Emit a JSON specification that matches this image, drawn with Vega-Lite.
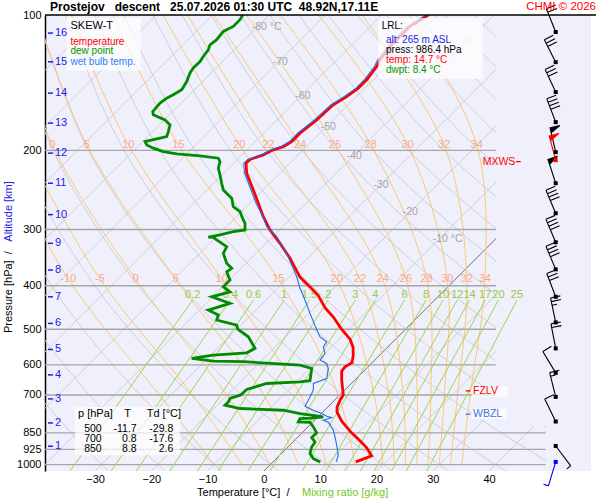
{
  "$schema": "https://vega.github.io/schema/vega-lite/v6.json",
  "width": 546,
  "height": 456,
  "autosize": {"type": "none"},
  "padding": {"left": 45, "top": 15, "right": 9, "bottom": 29},
  "background": "white",
  "config": {
    "font": "Liberation Sans",
    "view": {"fill": "#f0f0fc", "stroke": null},
    "axis": {"grid": false, "ticks": false, "tickSize": 0, "domain": false, "labelFont": "Liberation Sans", "labelFontSize": 11, "labelColor": "#000000"},
    "legend": {"disable": true}
  },
  "datasets": {
    "iso": [
      {"T": -110, "p": 1033.4, "x": -110}, {"T": -110, "p": 100, "x": -29.09},
      {"T": -100, "p": 1033.4, "x": -100}, {"T": -100, "p": 100, "x": -19.09},
      {"T": -90, "p": 1033.4, "x": -90}, {"T": -90, "p": 100, "x": -9.09},
      {"T": -80, "p": 1033.4, "x": -80}, {"T": -80, "p": 100, "x": 0.91},
      {"T": -70, "p": 1033.4, "x": -70}, {"T": -70, "p": 100, "x": 10.91},
      {"T": -60, "p": 1033.4, "x": -60}, {"T": -60, "p": 100, "x": 20.91},
      {"T": -50, "p": 1033.4, "x": -50}, {"T": -50, "p": 100, "x": 30.91},
      {"T": -40, "p": 1033.4, "x": -40}, {"T": -40, "p": 100, "x": 40.91},
      {"T": -30, "p": 1033.4, "x": -30}, {"T": -30, "p": 100, "x": 50.91},
      {"T": -20, "p": 1033.4, "x": -20}, {"T": -20, "p": 100, "x": 60.91},
      {"T": -10, "p": 1033.4, "x": -10}, {"T": -10, "p": 100, "x": 70.91},
      {"T": 0, "p": 1033.4, "x": 0}, {"T": 0, "p": 100, "x": 80.91},
      {"T": 10, "p": 1033.4, "x": 10}, {"T": 10, "p": 100, "x": 90.91},
      {"T": 20, "p": 1033.4, "x": 20}, {"T": 20, "p": 100, "x": 100.91},
      {"T": 30, "p": 1033.4, "x": 30}, {"T": 30, "p": 100, "x": 110.91},
      {"T": 40, "p": 1033.4, "x": 40}, {"T": 40, "p": 100, "x": 120.91}
    ],
    "dry": [
      {"th": -30, "p": 1033.4, "x": -27.71}, {"th": -30, "p": 700, "x": -40.07}, {"th": -30, "p": 400, "x": -53.12}, {"th": -30, "p": 200, "x": -62.74}, {"th": -30, "p": 100, "x": -66.31},
      {"th": -20, "p": 1033.4, "x": -17.61}, {"th": -20, "p": 700, "x": -31.03}, {"th": -20, "p": 400, "x": -45.43}, {"th": -20, "p": 200, "x": -56.42}, {"th": -20, "p": 100, "x": -61.13},
      {"th": -10, "p": 1033.4, "x": -7.52}, {"th": -10, "p": 700, "x": -22.0}, {"th": -10, "p": 400, "x": -37.73}, {"th": -10, "p": 200, "x": -50.11}, {"th": -10, "p": 100, "x": -55.95},
      {"th": 0, "p": 1033.4, "x": 2.58}, {"th": 0, "p": 700, "x": -12.97}, {"th": 0, "p": 400, "x": -30.03}, {"th": 0, "p": 200, "x": -43.8}, {"th": 0, "p": 100, "x": -50.77},
      {"th": 10, "p": 1033.4, "x": 12.67}, {"th": 10, "p": 700, "x": -3.94}, {"th": 10, "p": 400, "x": -22.34}, {"th": 10, "p": 200, "x": -37.48}, {"th": 10, "p": 100, "x": -45.59},
      {"th": 20, "p": 1033.4, "x": 22.76}, {"th": 20, "p": 700, "x": 5.09}, {"th": 20, "p": 400, "x": -14.64}, {"th": 20, "p": 200, "x": -31.17}, {"th": 20, "p": 100, "x": -40.41},
      {"th": 30, "p": 1033.4, "x": 32.86}, {"th": 30, "p": 700, "x": 14.12}, {"th": 30, "p": 400, "x": -6.94}, {"th": 30, "p": 200, "x": -24.85}, {"th": 30, "p": 100, "x": -35.23},
      {"th": 40, "p": 1033.4, "x": 42.95}, {"th": 40, "p": 700, "x": 23.15}, {"th": 40, "p": 400, "x": 0.75}, {"th": 40, "p": 200, "x": -18.54}, {"th": 40, "p": 100, "x": -30.06},
      {"th": 50, "p": 1033.4, "x": 53.05}, {"th": 50, "p": 700, "x": 32.18}, {"th": 50, "p": 400, "x": 8.45}, {"th": 50, "p": 200, "x": -12.23}, {"th": 50, "p": 100, "x": -24.88},
      {"th": 60, "p": 1033.4, "x": 63.14}, {"th": 60, "p": 700, "x": 41.21}, {"th": 60, "p": 400, "x": 16.15}, {"th": 60, "p": 200, "x": -5.91}, {"th": 60, "p": 100, "x": -19.7},
      {"th": 70, "p": 1033.4, "x": 73.24}, {"th": 70, "p": 700, "x": 50.25}, {"th": 70, "p": 400, "x": 23.84}, {"th": 70, "p": 200, "x": 0.4}, {"th": 70, "p": 100, "x": -14.52},
      {"th": 80, "p": 1033.4, "x": 83.33}, {"th": 80, "p": 700, "x": 59.28}, {"th": 80, "p": 400, "x": 31.54}, {"th": 80, "p": 200, "x": 6.72}, {"th": 80, "p": 100, "x": -9.34},
      {"th": 90, "p": 1033.4, "x": 93.42}, {"th": 90, "p": 700, "x": 68.31}, {"th": 90, "p": 400, "x": 39.24}, {"th": 90, "p": 200, "x": 13.03}, {"th": 90, "p": 100, "x": -4.16},
      {"th": 100, "p": 1033.4, "x": 103.52}, {"th": 100, "p": 700, "x": 77.34}, {"th": 100, "p": 400, "x": 46.93}, {"th": 100, "p": 200, "x": 19.34}, {"th": 100, "p": 100, "x": 1.02},
      {"th": 110, "p": 1033.4, "x": 113.61}, {"th": 110, "p": 700, "x": 86.37}, {"th": 110, "p": 400, "x": 54.63}, {"th": 110, "p": 200, "x": 25.66}, {"th": 110, "p": 100, "x": 6.2},
      {"th": 120, "p": 1033.4, "x": 123.71}, {"th": 120, "p": 700, "x": 95.4}, {"th": 120, "p": 400, "x": 62.33}, {"th": 120, "p": 200, "x": 31.97}, {"th": 120, "p": 100, "x": 11.38},
      {"th": 130, "p": 1033.4, "x": 133.8}, {"th": 130, "p": 700, "x": 104.43}, {"th": 130, "p": 400, "x": 70.02}, {"th": 130, "p": 200, "x": 38.29}, {"th": 130, "p": 100, "x": 16.56},
      {"th": 140, "p": 1033.4, "x": 143.9}, {"th": 140, "p": 700, "x": 113.46}, {"th": 140, "p": 400, "x": 77.72}, {"th": 140, "p": 200, "x": 44.6}, {"th": 140, "p": 100, "x": 21.74},
      {"th": 150, "p": 1033.4, "x": 153.99}, {"th": 150, "p": 700, "x": 122.49}, {"th": 150, "p": 400, "x": 85.42}, {"th": 150, "p": 200, "x": 50.91}, {"th": 150, "p": 100, "x": 26.92},
      {"th": 160, "p": 1033.4, "x": 164.08}, {"th": 160, "p": 700, "x": 131.53}, {"th": 160, "p": 400, "x": 93.12}, {"th": 160, "p": 200, "x": 57.23}, {"th": 160, "p": 100, "x": 32.1},
      {"th": 170, "p": 1033.4, "x": 174.18}, {"th": 170, "p": 700, "x": 140.56}, {"th": 170, "p": 400, "x": 100.81}, {"th": 170, "p": 200, "x": 63.54}, {"th": 170, "p": 100, "x": 37.28}
    ],
    "moist": [
      {"tw": -10, "p": 1000, "x": -8.86}, {"tw": -10, "p": 700, "x": -18.57}, {"tw": -10, "p": 386.6, "x": -34.75}, {"tw": -10, "p": 194.5, "x": -47.39},
      {"tw": -5, "p": 1000, "x": -3.86}, {"tw": -5, "p": 700, "x": -12.69}, {"tw": -5, "p": 386.6, "x": -29.12}, {"tw": -5, "p": 194.5, "x": -42.8},
      {"tw": 0, "p": 1000, "x": 1.14}, {"tw": 0, "p": 700, "x": -6.61}, {"tw": 0, "p": 386.6, "x": -22.78}, {"tw": 0, "p": 194.5, "x": -37.59}, {"tw": 0, "p": 100, "x": -45.3},
      {"tw": 5, "p": 1000, "x": 6.14}, {"tw": 5, "p": 700, "x": -0.01}, {"tw": 5, "p": 386.6, "x": -15.67}, {"tw": 5, "p": 194.5, "x": -31.48}, {"tw": 5, "p": 100, "x": -40.3},
      {"tw": 10, "p": 1000, "x": 11.14}, {"tw": 10, "p": 700, "x": 6.49}, {"tw": 10, "p": 386.6, "x": -7.5}, {"tw": 10, "p": 194.5, "x": -24.09}, {"tw": 10, "p": 100, "x": -34.2},
      {"tw": 15, "p": 1000, "x": 16.14}, {"tw": 15, "p": 700, "x": 13.19}, {"tw": 15, "p": 386.6, "x": 2.56}, {"tw": 15, "p": 194.5, "x": -15.21}, {"tw": 15, "p": 100, "x": -26.8},
      {"tw": 20, "p": 1000, "x": 21.14}, {"tw": 20, "p": 700, "x": 19.59}, {"tw": 20, "p": 386.6, "x": 12.93}, {"tw": 20, "p": 194.5, "x": -4.37}, {"tw": 20, "p": 100, "x": -17.9},
      {"tw": 22, "p": 1000, "x": 23.14}, {"tw": 22, "p": 700, "x": 22.19}, {"tw": 22, "p": 386.6, "x": 17.07}, {"tw": 22, "p": 194.5, "x": 0.78}, {"tw": 22, "p": 100, "x": -13.6},
      {"tw": 24, "p": 1000, "x": 25.14}, {"tw": 24, "p": 700, "x": 24.73}, {"tw": 24, "p": 386.6, "x": 21.1}, {"tw": 24, "p": 194.5, "x": 6.41}, {"tw": 24, "p": 100, "x": -8.9},
      {"tw": 26, "p": 1000, "x": 27.14}, {"tw": 26, "p": 700, "x": 27.22}, {"tw": 26, "p": 386.6, "x": 25.24}, {"tw": 26, "p": 194.5, "x": 12.63}, {"tw": 26, "p": 100, "x": -3.1},
      {"tw": 28, "p": 1000, "x": 29.14}, {"tw": 28, "p": 700, "x": 29.66}, {"tw": 28, "p": 386.6, "x": 28.92}, {"tw": 28, "p": 194.5, "x": 18.97}, {"tw": 28, "p": 100, "x": 2.9},
      {"tw": 30, "p": 1000, "x": 31.14}, {"tw": 30, "p": 700, "x": 32.06}, {"tw": 30, "p": 386.6, "x": 32.58}, {"tw": 30, "p": 194.5, "x": 25.55}, {"tw": 30, "p": 100, "x": 9.7},
      {"tw": 32, "p": 1000, "x": 33.14}, {"tw": 32, "p": 700, "x": 34.39}, {"tw": 32, "p": 386.6, "x": 36.03}, {"tw": 32, "p": 194.5, "x": 32.0}, {"tw": 32, "p": 100, "x": 17.4},
      {"tw": 34, "p": 1000, "x": 35.14}, {"tw": 34, "p": 700, "x": 36.64}, {"tw": 34, "p": 386.6, "x": 39.28}, {"tw": 34, "p": 194.5, "x": 37.8}, {"tw": 34, "p": 100, "x": 25.8}
    ],
    "mix": [
      {"w": 0.2, "p": 1033.4, "x": -34.45}, {"w": 0.2, "p": 430.6, "x": -12.65},
      {"w": 0.4, "p": 1033.4, "x": -27.17}, {"w": 0.4, "p": 430.6, "x": -5.96},
      {"w": 0.6, "p": 1033.4, "x": -22.67}, {"w": 0.6, "p": 430.6, "x": -1.84},
      {"w": 1, "p": 1033.4, "x": -16.74}, {"w": 1, "p": 430.6, "x": 3.59},
      {"w": 1.5, "p": 1033.4, "x": -11.8}, {"w": 1.5, "p": 430.6, "x": 8.1},
      {"w": 2, "p": 1033.4, "x": -8.16}, {"w": 2, "p": 430.6, "x": 11.42},
      {"w": 3, "p": 1033.4, "x": -2.84}, {"w": 3, "p": 430.6, "x": 16.25},
      {"w": 4, "p": 1033.4, "x": 1.07}, {"w": 4, "p": 430.6, "x": 19.81},
      {"w": 6, "p": 1033.4, "x": 6.79}, {"w": 6, "p": 430.6, "x": 24.99},
      {"w": 8, "p": 1033.4, "x": 11.0}, {"w": 8, "p": 430.6, "x": 28.8},
      {"w": 10, "p": 1033.4, "x": 14.36}, {"w": 10, "p": 430.6, "x": 31.84},
      {"w": 12, "p": 1033.4, "x": 17.16}, {"w": 12, "p": 430.6, "x": 34.36},
      {"w": 14, "p": 1033.4, "x": 19.57}, {"w": 14, "p": 430.6, "x": 36.53},
      {"w": 17, "p": 1033.4, "x": 22.65}, {"w": 17, "p": 430.6, "x": 39.31},
      {"w": 20, "p": 1033.4, "x": 25.27}, {"w": 20, "p": 430.6, "x": 41.67},
      {"w": 25, "p": 1033.4, "x": 28.94}, {"w": 25, "p": 430.6, "x": 44.96}
    ],
    "temp": [
      {"p": 986.4, "x": 16.31}, {"p": 955.9, "x": 19.15}, {"p": 917.5, "x": 18.26}, {"p": 885.1, "x": 17.07},
      {"p": 850, "x": 15.57}, {"p": 800.9, "x": 13.82}, {"p": 764.7, "x": 12.99}, {"p": 745.4, "x": 12.99},
      {"p": 719.1, "x": 13.52}, {"p": 700, "x": 14.1}, {"p": 649.0, "x": 13.82}, {"p": 619.7, "x": 13.82},
      {"p": 606.2, "x": 14.41}, {"p": 593.3, "x": 15.65}, {"p": 570.9, "x": 15.88}, {"p": 548.0, "x": 15.83},
      {"p": 525.9, "x": 15.3}, {"p": 500, "x": 13.8}, {"p": 469.8, "x": 12.33}, {"p": 447.5, "x": 10.85},
      {"p": 419.7, "x": 9.61}, {"p": 402.8, "x": 8.19}, {"p": 382.7, "x": 6.41}, {"p": 347.7, "x": 4.64},
      {"p": 322.0, "x": 2.86}, {"p": 300.7, "x": 1.08}, {"p": 280.9, "x": -0.11}, {"p": 262.2, "x": -0.99},
      {"p": 245.0, "x": -1.88}, {"p": 224.9, "x": -3.06}, {"p": 213.6, "x": -3.18}, {"p": 209.5, "x": -2.47},
      {"p": 204.7, "x": -0.11}, {"p": 199.5, "x": 1.67}, {"p": 196.2, "x": 3.45}, {"p": 191.2, "x": 4.94},
      {"p": 183.2, "x": 6.41}, {"p": 171.1, "x": 9.38}, {"p": 158.4, "x": 12.33}, {"p": 151.8, "x": 14.71},
      {"p": 145.4, "x": 16.77}, {"p": 139.3, "x": 18.26}, {"p": 130.2, "x": 20.04}, {"p": 125.8, "x": 20.63},
      {"p": 115.4, "x": 22.99}, {"p": 106.0, "x": 25.96}, {"p": 100, "x": 29.21}
    ],
    "dew": [
      {"p": 986.4, "x": 10.01}, {"p": 969.7, "x": 8.78}, {"p": 945.2, "x": 8.19}, {"p": 913.7, "x": 8.49},
      {"p": 890.6, "x": 9.08}, {"p": 870.7, "x": 8.49}, {"p": 850, "x": 9.37}, {"p": 824.6, "x": 8.78},
      {"p": 805.0, "x": 8.19}, {"p": 804.0, "x": 6.11}, {"p": 789.9, "x": 6.41}, {"p": 788.0, "x": 8.55},
      {"p": 783.4, "x": 10.55}, {"p": 769.9, "x": 6.41}, {"p": 757.0, "x": 3.45}, {"p": 750.4, "x": -4.25},
      {"p": 737.8, "x": -6.91}, {"p": 725.4, "x": -6.32}, {"p": 712.9, "x": -6.02}, {"p": 700, "x": -4.11},
      {"p": 680.7, "x": -3.06}, {"p": 660.1, "x": 0.5}, {"p": 654.7, "x": 6.41}, {"p": 650.7, "x": 8.19},
      {"p": 611.2, "x": 8.49}, {"p": 601.0, "x": 6.41}, {"p": 590.3, "x": -3.66}, {"p": 588.8, "x": -8.99},
      {"p": 580.7, "x": -12.83}, {"p": 570.9, "x": -8.99}, {"p": 564.2, "x": -3.06}, {"p": 551.6, "x": -1.58},
      {"p": 519.8, "x": -2.77}, {"p": 500, "x": -4.65}, {"p": 489.5, "x": -4.83}, {"p": 477.1, "x": -8.39},
      {"p": 465.0, "x": -8.1}, {"p": 453.3, "x": -9.88}, {"p": 438.0, "x": -6.02}, {"p": 423.4, "x": -9.27},
      {"p": 412.7, "x": -6.02}, {"p": 402.2, "x": -7.21}, {"p": 388.6, "x": -6.02}, {"p": 372.4, "x": -6.61},
      {"p": 366.0, "x": -5.72}, {"p": 356.7, "x": -6.61}, {"p": 338.9, "x": -7.21}, {"p": 327.6, "x": -6.61},
      {"p": 316.5, "x": -8.39}, {"p": 312.2, "x": -8.99}, {"p": 311.9, "x": -9.88}, {"p": 308.5, "x": -7.8},
      {"p": 303.4, "x": -5.44}, {"p": 300.7, "x": -3.36}, {"p": 290.6, "x": -3.36}, {"p": 285.7, "x": -3.66},
      {"p": 273.8, "x": -4.25}, {"p": 266.9, "x": -5.44}, {"p": 255.6, "x": -5.72}, {"p": 251.3, "x": -6.32},
      {"p": 245.0, "x": -7.21}, {"p": 236.7, "x": -7.5}, {"p": 226.8, "x": -7.8}, {"p": 219.2, "x": -8.1},
      {"p": 211.9, "x": -7.8}, {"p": 208.2, "x": -8.1}, {"p": 205.8, "x": -11.35}, {"p": 203.7, "x": -15.49},
      {"p": 201.3, "x": -17.87}, {"p": 197.8, "x": -19.65}, {"p": 194.5, "x": -20.82}, {"p": 191.2, "x": -21.12},
      {"p": 186.4, "x": -17.27}, {"p": 181.7, "x": -16.98}, {"p": 175.5, "x": -16.68}, {"p": 171.1, "x": -17.57},
      {"p": 166.7, "x": -19.65}, {"p": 164.0, "x": -19.75}, {"p": 157.0, "x": -18.46}, {"p": 153.1, "x": -17.27},
      {"p": 150.5, "x": -16.1}, {"p": 146.7, "x": -14.6}, {"p": 140.6, "x": -13.71}, {"p": 134.6, "x": -13.13},
      {"p": 131.2, "x": -12.54}, {"p": 126.9, "x": -11.35}, {"p": 123.7, "x": -10.77}, {"p": 119.5, "x": -9.88},
      {"p": 116.5, "x": -9.58}, {"p": 113.5, "x": -8.39}, {"p": 108.8, "x": -7.21}, {"p": 106.0, "x": -5.44},
      {"p": 102.4, "x": -4.25}, {"p": 100, "x": -3.77}
    ],
    "wet": [
      {"p": 986.4, "x": 12.85}, {"p": 953.4, "x": 13.22}, {"p": 905.8, "x": 12.93}, {"p": 868.0, "x": 12.63},
      {"p": 838.7, "x": 12.33}, {"p": 803.8, "x": 11.44}, {"p": 796.8, "x": 10.55}, {"p": 785.8, "x": 12.04},
      {"p": 780.6, "x": 11.16}, {"p": 769.9, "x": 10.27}, {"p": 757.0, "x": 8.78}, {"p": 741.6, "x": 7.3},
      {"p": 719.1, "x": 7.89}, {"p": 683.2, "x": 8.78}, {"p": 660.1, "x": 8.78}, {"p": 643.4, "x": 11.16},
      {"p": 611.2, "x": 11.44}, {"p": 595.7, "x": 11.16}, {"p": 585.7, "x": 9.97}, {"p": 566.0, "x": 10.85},
      {"p": 547.1, "x": 10.55}, {"p": 533.3, "x": 11.16}, {"p": 519.8, "x": 9.97}, {"p": 497.1, "x": 9.26},
      {"p": 461.0, "x": 8.19}, {"p": 430.6, "x": 7.3}, {"p": 404.9, "x": 6.41}, {"p": 382.1, "x": 5.83},
      {"p": 338.9, "x": 4.05}, {"p": 311.2, "x": 2.27}, {"p": 295.7, "x": 0.5}, {"p": 278.5, "x": -0.3},
      {"p": 262.2, "x": -1.39}, {"p": 245.0, "x": -2.28}, {"p": 224.9, "x": -3.46}, {"p": 213.6, "x": -3.58},
      {"p": 209.5, "x": -2.87}, {"p": 204.7, "x": -0.51}, {"p": 199.5, "x": 1.27}, {"p": 196.2, "x": 3.05},
      {"p": 191.2, "x": 4.54}, {"p": 183.2, "x": 6.01}, {"p": 171.1, "x": 8.98}, {"p": 158.4, "x": 11.93},
      {"p": 151.8, "x": 14.31}, {"p": 145.4, "x": 16.37}, {"p": 139.3, "x": 17.86}, {"p": 130.2, "x": 19.64},
      {"p": 125.8, "x": 20.23}, {"p": 115.4, "x": 22.59}, {"p": 106.0, "x": 25.56}, {"p": 100, "x": 28.8}
    ],
    "alt": [
      {"km": 1, "p": 910.4, "x": -38.36, "x2": -37.47}, {"km": 2, "p": 807.9, "x": -38.36, "x2": -37.47},
      {"km": 3, "p": 714.3, "x": -38.36, "x2": -37.47}, {"km": 4, "p": 631.6, "x": -38.36, "x2": -37.47},
      {"km": 5, "p": 554.5, "x": -38.36, "x2": -37.47}, {"km": 6, "p": 485.3, "x": -38.36, "x2": -37.47},
      {"km": 7, "p": 423.4, "x": -38.36, "x2": -37.47}, {"km": 8, "p": 369.2, "x": -38.36, "x2": -37.47},
      {"km": 9, "p": 322.0, "x": -38.36, "x2": -37.47}, {"km": 10, "p": 278.0, "x": -38.36, "x2": -37.47},
      {"km": 11, "p": 236.7, "x": -38.36, "x2": -37.47}, {"km": 12, "p": 202.9, "x": -38.36, "x2": -37.47},
      {"km": 13, "p": 174.0, "x": -38.36, "x2": -37.47}, {"km": 14, "p": 149.2, "x": -38.36, "x2": -37.47},
      {"km": 15, "p": 127.1, "x": -38.36, "x2": -37.47}, {"km": 16, "p": 109.7, "x": -38.36, "x2": -37.47}
    ],
    "wind": [
      {"p": 109.1, "x": 51.84, "dir": 338, "spd": 20, "kind": "level"},
      {"p": 127.3, "x": 51.84, "dir": 333, "spd": 30, "kind": "level"},
      {"p": 148.4, "x": 51.84, "dir": 335, "spd": 30, "kind": "level"},
      {"p": 173.1, "x": 51.84, "dir": 339, "spd": 40, "kind": "level"},
      {"p": 201.9, "x": 51.84, "dir": 347, "spd": 50, "kind": "level"},
      {"p": 236.7, "x": 51.84, "dir": 342, "spd": 50, "kind": "level"},
      {"p": 276.0, "x": 51.84, "dir": 337, "spd": 40, "kind": "level"},
      {"p": 320.3, "x": 51.84, "dir": 337, "spd": 40, "kind": "level"},
      {"p": 367.9, "x": 51.84, "dir": 337, "spd": 40, "kind": "level"},
      {"p": 423.4, "x": 51.84, "dir": 339, "spd": 30, "kind": "level"},
      {"p": 482.8, "x": 51.84, "dir": 348, "spd": 25, "kind": "level"},
      {"p": 551.6, "x": 51.84, "dir": 349, "spd": 20, "kind": "level"},
      {"p": 625.2, "x": 51.84, "dir": 329, "spd": 10, "kind": "level"},
      {"p": 707.0, "x": 51.84, "dir": 346, "spd": 15, "kind": "level"},
      {"p": 802.1, "x": 51.84, "dir": 334, "spd": 10, "kind": "level"},
      {"p": 909.0, "x": 51.84, "dir": 143, "spd": 5, "kind": "level"},
      {"p": 986.4, "x": 51.84, "dir": 197, "spd": 5, "kind": "surface"},
      {"p": 210.3, "x": 51.84, "dir": 345, "spd": 50, "kind": "max"}
    ]
  },
  "encoding": {
    "x": {
      "field": "x", "type": "quantitative", "title": null,
      "scale": {"domain": [-38.89, 58.11], "nice": false, "zero": false},
      "axis": {"values": [-30, -20, -10, 0, 10, 20, 30, 40], "labelPadding": 2, "labelFlush": false, "labelOverlap": false}
    },
    "y": {
      "field": "p", "type": "quantitative", "title": null,
      "scale": {"type": "log", "domain": [100, 1033.4], "reverse": true, "nice": false},
      "axis": {"values": [100, 200, 300, 400, 500, 600, 700, 850, 925, 1000], "format": "d", "domain": true, "domainColor": "#000000", "domainWidth": 1.5, "labelPadding": 4, "labelOverlap": false}
    }
  },
  "layer": [
    {
      "data": {"name": "iso"},
      "mark": {"type": "line", "clip": true, "strokeWidth": 1},
      "encoding": {
        "detail": {"field": "T", "type": "nominal"},
        "order": {"field": "p", "type": "quantitative", "sort": "descending"},
        "stroke": {"condition": {"test": "datum.T === 0", "value": "#6e6e6e"}, "value": "#cfcfd6"}
      }
    },
    {
      "data": {"name": "dry"},
      "mark": {"type": "line", "clip": true, "strokeWidth": 1, "interpolate": "catmull-rom", "color": "#cfcfd6"},
      "encoding": {
        "detail": {"field": "th", "type": "nominal"},
        "order": {"field": "p", "type": "quantitative", "sort": "descending"}
      }
    },
    {
      "data": {"name": "moist"},
      "mark": {"type": "line", "clip": true, "strokeWidth": 1, "interpolate": "catmull-rom", "color": "#ffc677"},
      "encoding": {
        "detail": {"field": "tw", "type": "nominal"},
        "order": {"field": "p", "type": "quantitative", "sort": "descending"}
      }
    },
    {
      "data": {"values": [{"x": 41.23, "x2": 58.11, "p": 100, "p2": 820}, {"x": 50.06, "x2": 58.11, "p": 820, "p2": 1033.4}]},
      "mark": {"type": "rect", "color": "#f0f0fc"},
      "encoding": {"x2": {"field": "x2"}, "y2": {"field": "p2"}}
    },
    {
      "data": {"values": [
        {"p": 200, "x": -38.89, "x2": 41.23}, {"p": 300, "x": -38.89, "x2": 41.23},
        {"p": 400, "x": -38.89, "x2": 41.23}, {"p": 500, "x": -38.89, "x2": 41.23},
        {"p": 600, "x": -38.89, "x2": 41.23}, {"p": 700, "x": -38.89, "x2": 41.23},
        {"p": 850, "x": -38.89, "x2": 50.06}, {"p": 925, "x": -38.89, "x2": 50.06},
        {"p": 1000, "x": -38.89, "x2": 50.06}
      ]},
      "mark": {"type": "rule", "color": "#a6a6a6", "strokeWidth": 1.4},
      "encoding": {"x2": {"field": "x2"}}
    },
    {
      "data": {"name": "mix"},
      "mark": {"type": "line", "clip": true, "strokeWidth": 1, "color": "#9fd64a"},
      "encoding": {
        "detail": {"field": "w", "type": "nominal"},
        "order": {"field": "p", "type": "quantitative", "sort": "descending"}
      }
    },
    {
      "data": {"name": "mix"},
      "transform": [{"filter": "datum.p < 500"}],
      "mark": {"type": "text", "color": "#92cc3a", "fontSize": 11, "dy": -5.5, "align": "center", "baseline": "middle"},
      "encoding": {"text": {"field": "w", "type": "nominal"}}
    },
    {
      "data": {"name": "moist"},
      "transform": [{"filter": "datum.p == 386.6 || datum.p == 194.5"}],
      "mark": {"type": "text", "clip": true, "color": "#f7a98a", "fontSize": 11, "align": "center", "baseline": "middle"},
      "encoding": {"text": {"field": "tw", "type": "nominal"}}
    },
    {
      "data": {"name": "dew"},
      "mark": {"type": "line", "clip": true, "color": "#008c00", "strokeWidth": 2.8},
      "encoding": {"order": {"field": "p", "type": "quantitative", "sort": "descending"}}
    },
    {
      "data": {"name": "temp"},
      "mark": {"type": "line", "clip": true, "color": "#ff0000", "strokeWidth": 2.8},
      "encoding": {"order": {"field": "p", "type": "quantitative", "sort": "descending"}}
    },
    {
      "data": {"name": "wet"},
      "mark": {"type": "line", "clip": true, "color": "#1f6ee8", "strokeWidth": 1.1},
      "encoding": {"order": {"field": "p", "type": "quantitative", "sort": "descending"}}
    },
    {
      "data": {"values": [
        {"x": -35.03, "x2": -21.89, "p": 101.6, "p2": 132.9},
        {"x": 20.32, "x2": 38.87, "p": 101.6, "p2": 138.6},
        {"x": -33.56, "x2": -14.91, "p": 744.3, "p2": 953.4},
        {"x": 36.92, "x2": 43.42, "p": 669.3, "p2": 707.0},
        {"x": 36.92, "x2": 42.96, "p": 750.4, "p2": 792.7}
      ]},
      "mark": {"type": "rect", "color": "#ffffff", "opacity": 0.72},
      "encoding": {"x2": {"field": "x2"}, "y2": {"field": "p2"}}
    },
    {
      "data": {"values": [
        {"x": -34.36, "p": 114.7, "t": "temperature", "r": "temp"},
        {"x": -34.36, "p": 120.5, "t": "dew point", "r": "dew"},
        {"x": -34.36, "p": 126.9, "t": "wet bulb temp.", "r": "wet"},
        {"x": 20.93, "p": 106.0, "t": "LRL:", "r": "ink"},
        {"x": 21.69, "p": 113.5, "t": "alt: 265 m ASL", "r": "alt"},
        {"x": 21.69, "p": 119.5, "t": "press: 986.4 hPa", "r": "ink"},
        {"x": 21.69, "p": 125.8, "t": "temp: 14.7 °C", "r": "temp"},
        {"x": 21.69, "p": 132.4, "t": "dwpt: 8.4 °C", "r": "dew"}
      ]},
      "mark": {"type": "text", "fontSize": 10, "align": "left", "baseline": "middle"},
      "encoding": {
        "text": {"field": "t", "type": "nominal"},
        "color": {"field": "r", "type": "nominal", "legend": null, "scale": {"domain": ["ink", "temp", "dew", "wet", "alt", "iso", "mix", "wbz"], "range": ["#000000", "#ff0000", "#009600", "#2f7cff", "#2020e8", "#a4a4a4", "#76c626", "#3a76dc"]}}
      }
    },
    {
      "data": {"values": [
        {"x": 38.87, "p": 211.9, "t": "MXWS", "r": "temp"},
        {"x": 37.15, "p": 685.6, "t": "FZLV", "r": "temp"},
        {"x": 37.15, "p": 772.6, "t": "WBZL", "r": "wbz"},
        {"x": -2.17, "p": 106.5, "t": "-80 °C", "r": "iso"},
        {"x": 1.56, "p": 127.4, "t": "-70", "r": "iso"},
        {"x": 5.61, "p": 151.1, "t": "-60", "r": "iso"},
        {"x": 10.09, "p": 177.1, "t": "-50", "r": "iso"},
        {"x": 14.71, "p": 205.5, "t": "-40", "r": "iso"},
        {"x": 19.44, "p": 238.8, "t": "-30", "r": "iso"},
        {"x": 24.66, "p": 274.9, "t": "-20", "r": "iso"},
        {"x": 29.99, "p": 315.3, "t": "-10 °C", "r": "iso"}
      ]},
      "mark": {"type": "text", "fontSize": 10.5, "align": "left", "baseline": "middle"},
      "encoding": {
        "text": {"field": "t", "type": "nominal"},
        "color": {"field": "r", "type": "nominal", "legend": null, "scale": {"domain": ["ink", "temp", "dew", "wet", "alt", "iso", "mix", "wbz"], "range": ["#000000", "#ff0000", "#009600", "#2f7cff", "#2020e8", "#a4a4a4", "#76c626", "#3a76dc"]}}
      }
    },
    {
      "data": {"values": [
        {"x": -34.36, "p": 106.0, "t": "SKEW-T", "r": "ink"},
        {"x": -33.03, "p": 772.6, "t": "p [hPa]", "r": "ink"},
        {"x": -20.82, "p": 772.6, "t": "Td [°C]", "r": "ink"},
        {"x": -11.88, "p": 1156.8, "t": "Temperature [°C]\u00a0 /", "r": "ink"},
        {"x": 6.77, "p": 1156.8, "t": "Mixing ratio [g/kg]", "r": "mix"}
      ]},
      "mark": {"type": "text", "fontSize": 11, "align": "left", "baseline": "middle"},
      "encoding": {
        "text": {"field": "t", "type": "nominal"},
        "color": {"field": "r", "type": "nominal", "legend": null, "scale": {"domain": ["ink", "temp", "dew", "wet", "alt", "iso", "mix", "wbz"], "range": ["#000000", "#ff0000", "#009600", "#2f7cff", "#2020e8", "#a4a4a4", "#76c626", "#3a76dc"]}}
      }
    },
    {
      "data": {"values": [
        {"x": -24.23, "p": 772.6, "t": "T"}
      ]},
      "mark": {"type": "text", "fontSize": 11, "align": "center", "baseline": "middle", "color": "#000000"},
      "encoding": {"text": {"field": "t", "type": "nominal"}}
    },
    {
      "data": {"values": [
        {"x": -28.82, "p": 833.1, "t": "500"}, {"x": -28.82, "p": 877.0, "t": "700"}, {"x": -28.82, "p": 923.1, "t": "850"},
        {"x": -22.6, "p": 833.1, "t": "-11.7"}, {"x": -22.6, "p": 877.0, "t": "0.8"}, {"x": -22.6, "p": 923.1, "t": "8.8"},
        {"x": -16.1, "p": 833.1, "t": "-29.8"}, {"x": -16.1, "p": 877.0, "t": "-17.6"}, {"x": -16.1, "p": 923.1, "t": "2.6"}
      ]},
      "mark": {"type": "text", "fontSize": 10.5, "align": "right", "baseline": "middle", "color": "#000000"},
      "encoding": {"text": {"field": "t", "type": "nominal"}}
    },
    {
      "data": {"values": [
        {"x": 44.79, "x2": 45.62, "p": 211.9, "r": "temp"},
        {"x": 35.85, "x2": 36.67, "p": 685.6, "r": "temp"},
        {"x": 35.85, "x2": 36.67, "p": 772.6, "r": "wbz"}
      ]},
      "mark": {"type": "rule", "strokeWidth": 1.3},
      "encoding": {
        "x2": {"field": "x2"},
        "color": {"field": "r", "type": "nominal", "legend": null, "scale": {"domain": ["ink", "temp", "dew", "wet", "alt", "iso", "mix", "wbz"], "range": ["#000000", "#ff0000", "#009600", "#2f7cff", "#2020e8", "#a4a4a4", "#76c626", "#3a76dc"]}}
      }
    },
    {
      "data": {"name": "alt"},
      "mark": {"type": "rule", "color": "#2020e8", "strokeWidth": 1.5},
      "encoding": {"x2": {"field": "x2"}}
    },
    {
      "data": {"name": "alt"},
      "mark": {"type": "text", "color": "#2020e8", "fontSize": 11, "align": "left", "baseline": "middle", "dx": 7},
      "encoding": {"text": {"field": "km", "type": "nominal"}}
    },
    {
      "data": {"name": "wind"},
      "mark": {"type": "point", "size": 2500, "filled": true, "opacity": 1, "strokeWidth": 1.1},
      "encoding": {
        "shape": {"field": "spd", "type": "nominal", "legend": null, "scale": {
          "domain": [5, 10, 15, 20, 25, 30, 40, 50],
          "range": [
            "M0,0L0,-1M0,-1L0.2,-1",
            "M0,0L0,-1M0,-1L0.4,-1",
            "M0,0L0,-1M0,-1L0.4,-1M0,-0.85L0.2,-0.85",
            "M0,0L0,-1M0,-1L0.4,-1M0,-0.85L0.4,-0.85",
            "M0,0L0,-1M0,-1L0.4,-1M0,-0.85L0.4,-0.85M0,-0.7L0.2,-0.7",
            "M0,0L0,-1M0,-1L0.4,-1M0,-0.85L0.4,-0.85M0,-0.7L0.4,-0.7",
            "M0,0L0,-1M0,-1L0.4,-1M0,-0.85L0.4,-0.85M0,-0.7L0.4,-0.7M0,-0.55L0.4,-0.55",
            "M0,0L0,-1M0,-1L0.4,-1L0,-0.8Z"
          ]}},
        "angle": {"field": "dir", "type": "quantitative", "scale": {"domain": [0, 360], "range": [0, 360]}},
        "fill": {"field": "kind", "type": "nominal", "legend": null, "scale": {"domain": ["level", "max", "surface"], "range": ["#000000", "#ff0000", "#0000ee"]}},
        "stroke": {"field": "kind", "type": "nominal", "legend": null, "scale": {"domain": ["level", "max", "surface"], "range": ["#000000", "#ff0000", "#0000ee"]}}
      }
    },
    {
      "data": {"name": "wind"},
      "mark": {"type": "point", "shape": "square", "size": 16, "filled": true, "opacity": 1},
      "encoding": {
        "fill": {"field": "kind", "type": "nominal", "legend": null, "scale": {"domain": ["level", "max", "surface"], "range": ["#000000", "#ff0000", "#0000ee"]}}
      }
    },
    {
      "data": {"values": [{"x": -38.0, "p": 95.9, "t": "Prostejov\u00a0\u00a0 descent\u00a0\u00a0 25.07.2026 01:30 UTC\u00a0 48.92N,17.11E"}]},
      "mark": {"type": "text", "fontSize": 12, "fontWeight": "bold", "align": "left", "baseline": "middle", "color": "#000000"},
      "encoding": {"text": {"field": "t", "type": "nominal"}}
    },
    {
      "data": {"values": [{"x": 59.0, "p": 95.8, "t": "CHMI © 2026"}]},
      "mark": {"type": "text", "fontSize": 11.5, "align": "right", "baseline": "middle", "color": "#ff0000"},
      "encoding": {"text": {"field": "t", "type": "nominal"}}
    },
    {
      "data": {"values": [
        {"x": -45.2, "p": 510.0, "t": "Pressure [hPa]\u00a0 /", "r": "ink"},
        {"x": -45.2, "p": 319.3, "t": "Altitude [km]", "r": "alt"}
      ]},
      "mark": {"type": "text", "fontSize": 11, "angle": 270, "align": "left", "baseline": "middle"},
      "encoding": {
        "text": {"field": "t", "type": "nominal"},
        "color": {"field": "r", "type": "nominal", "legend": null, "scale": {"domain": ["ink", "temp", "dew", "wet", "alt", "iso", "mix", "wbz"], "range": ["#000000", "#ff0000", "#009600", "#2f7cff", "#2020e8", "#a4a4a4", "#76c626", "#3a76dc"]}}
      }
    },
    {
      "data": {"values": [{"x": -38.89, "x2": 59.0, "p": 100}]},
      "mark": {"type": "rule", "color": "#000000", "strokeWidth": 1.5},
      "encoding": {"x2": {"field": "x2"}}
    }
  ]
}
